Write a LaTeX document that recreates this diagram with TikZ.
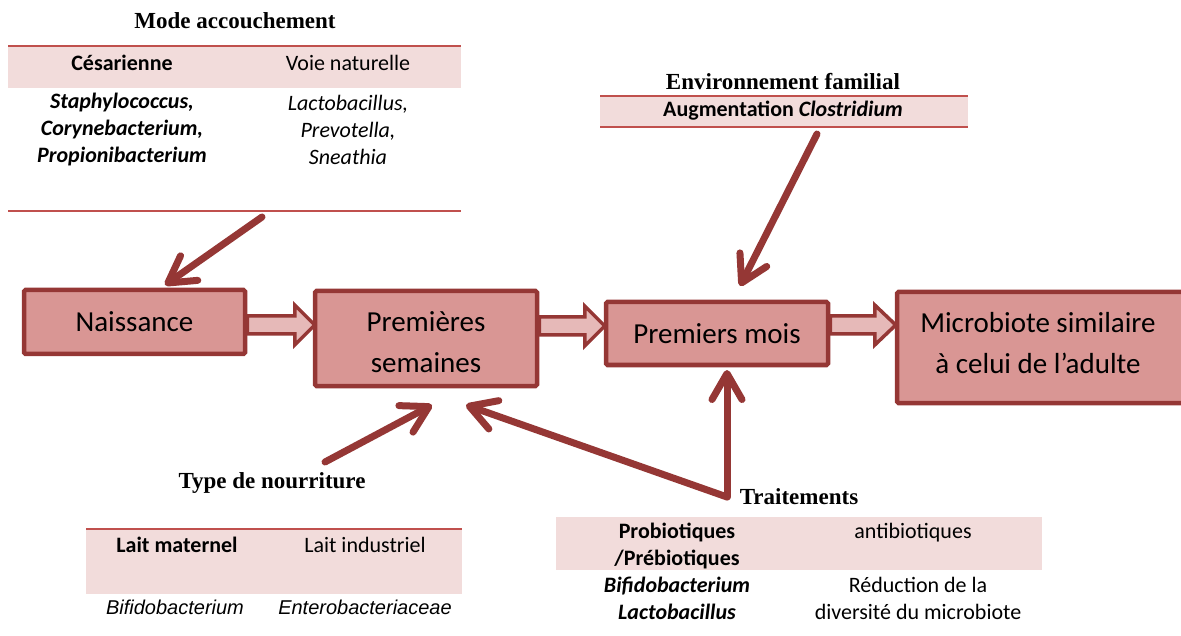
\documentclass[tikz,border=0pt]{standalone}
\usepackage{fontspec}
\setmainfont{Carlito}
\newfontfamily\titlefont{Liberation Serif}
\newfontfamily\arialfont{Liberation Sans}
\usetikzlibrary{arrows.meta,calc}
\definecolor{dark}{RGB}{149,55,53}
\definecolor{boxfill}{RGB}{217,150,148}
\definecolor{arrfill}{RGB}{230,185,184}
\definecolor{shadecol}{RGB}{242,220,219}
\definecolor{tline}{RGB}{192,80,77}
\begin{document}
\begin{tikzpicture}[x=1pt,y=-1pt,
  stage/.style={draw=dark,fill=boxfill,line width=4.5pt,rounded corners=1.5pt,inner sep=0pt,align=center,font=\fontsize{29}{41}\selectfont},
  stagetext/.style={inner sep=0pt,align=center,font=\fontsize{29}{41}\selectfont},
  titletext/.style={font=\titlefont\bfseries\fontsize{23}{27}\selectfont,inner sep=0pt},
  cell/.style={font=\fontsize{22}{27}\selectfont,inner sep=0pt,align=center},
  cellb/.style={cell,font=\fontsize{22}{27}\selectfont\bfseries},
  celli/.style={cell,font=\fontsize{22}{27}\selectfont\itshape},
  cellbi/.style={cell,font=\fontsize{22}{27}\selectfont\bfseries\itshape},
  arialcell/.style={font=\arialfont\itshape\fontsize{20}{24}\selectfont,inner sep=0pt},
  infl/.style={draw=dark,line width=7pt,line cap=round,-{Straight Barb[length=26pt,width=30pt,round]}},
  blockarrow/.style={draw=dark,fill=arrfill,line width=3.5pt,line join=miter},
  shadebox/.style={fill=shadecol,draw=none},
  tabline/.style={draw=tline,line width=2pt}]
\useasboundingbox (0,0) rectangle (1181,636);

% ---- stages
\node[stage,minimum width=221pt,minimum height=64pt] (nai) at (134.5,322) {Naissance};
\node[stage,minimum width=222pt,minimum height=95pt,
  label={[stagetext,yshift=-4pt]center:{Premières\\semaines}}] (psem) at (426,338.5) {};
\node[stage,minimum width=222pt,minimum height=63pt] (pmois) at (717,333.5) {Premiers mois};
\node[stage,minimum width=290pt,minimum height=111pt,
  label={[stagetext,xshift=-4pt,yshift=4pt]center:{Microbiote similaire\\à celui de l’adulte}}] (micro) at (1042,347.5) {};

% ---- block arrows between stages
\draw[blockarrow] let \p1=(nai.east), \p2=(psem.west) in
  (\x1,-316pt) -- (\x2-18pt,-316pt) -- (\x2-18pt,-305pt) -- (\x2+2pt,-325pt)
  -- (\x2-18pt,-345pt) -- (\x2-18pt,-334pt) -- (\x1,-334pt) -- cycle;
\draw[blockarrow] let \p1=(psem.east), \p2=(pmois.west) in
  (\x1,-317pt) -- (\x2-19pt,-317pt) -- (\x2-19pt,-306pt) -- (\x2+1pt,-326pt)
  -- (\x2-19pt,-346pt) -- (\x2-19pt,-335pt) -- (\x1,-335pt) -- cycle;
\draw[blockarrow] let \p1=(pmois.east), \p2=(micro.west) in
  (\x1,-316pt) -- (\x2-20pt,-316pt) -- (\x2-20pt,-305pt) -- (\x2+1pt,-325pt)
  -- (\x2-20pt,-345pt) -- (\x2-20pt,-334pt) -- (\x1,-334pt) -- cycle;

% ---- Mode accouchement
\node[titletext] (tmode) at (235,21) {Mode accouchement};
\fill[shadebox] (8,46) rectangle (461,88);
\draw[tabline] (8,46) -- (461,46);
\draw[tabline] (8,211) -- (461,211);
\node[cellb] (ces) at (122,63) {Césarienne};
\node[cell] (voie) at (348,63) {Voie naturelle};
\node[cellbi] (cesb) at (122,130) {Staphylococcus,\\Corynebacterium,\\Propionibacterium};
\node[celli] (voieb) at (348,130) {Lactobacillus,\\Prevotella,\\Sneathia};

% ---- Environnement familial
\node[titletext] (tenv) at (783,82) {Environnement familial};
\fill[shadebox] (600,96) rectangle (968,127);
\draw[tabline] (600,96) -- (968,96);
\draw[tabline] (600,127) -- (968,127);
\node[cellb] (env) at (783,111) {Augmentation \itshape Clostridium};

% ---- Type de nourriture
\node[titletext] (tnour) at (272,483) {Type de nourriture};
\fill[shadebox] (86,530) rectangle (462,594);
\draw[tabline] (86,529) -- (462,529);
\node[cellb] (lm) at (177,545) {Lait maternel};
\node[cell] (li) at (365,545) {Lait industriel};
\node[arialcell] (lmb) at (175,607) {Bifidobacterium};
\node[arialcell] (lib) at (365,607) {Enterobacteriaceae};

% ---- Traitements
\node[titletext] (ttrait) at (799,497) {Traitements};
\fill[shadebox] (556,517) rectangle (1042,570);
\node[cellb] (probio) at (677,545.5) {Probiotiques\\/Prébiotiques};
\node[cell] (antibio) at (913,533) {antibiotiques};
\node[cellbi] (probiob) at (677,598) {Bifidobacterium\\Lactobacillus};
\node[cell] (antibiob) at (918,598) {Réduction de la\\diversité du microbiote};

% ---- influence arrows
\coordinate (modeS) at (262,217);
\coordinate (modeT) at (165,285);
\coordinate (envS) at (817,134);
\coordinate (envT) at (740,286);
\coordinate (nourS) at (325,462);
\coordinate (nourT) at (432,405);
\coordinate (traitC) at (727,497);
\coordinate (traitT1) at (466,405);
\coordinate (traitT2) at (727,370);
\draw[infl] (modeS) -- (modeT);
\draw[infl] (envS) -- (envT);
\draw[infl] (nourS) -- (nourT);
\draw[infl] (traitC) -- (traitT1);
\draw[infl] (traitC) -- (traitT2);
\end{tikzpicture}
\end{document}
